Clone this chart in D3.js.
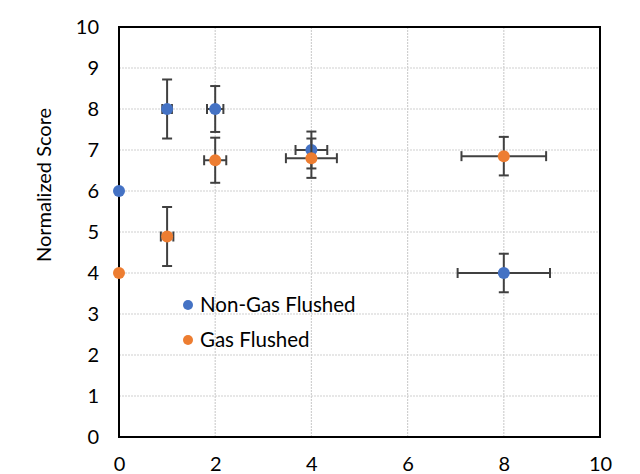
<!DOCTYPE html>
<html><head><meta charset="utf-8">
<script src="https://cdn.jsdelivr.net/npm/d3@7"></script>
<style>body{margin:0;background:#fff;} svg{display:block;font-family:Lato,"Open Sans",sans-serif;}</style>
</head><body>
<svg id="c" width="640" height="474"></svg>
<script>
const seriesNames = ["Non-Gas Flushed", "Gas Flushed"];
const seriesColors = ["#4472C4", "#ED7D31"];
const nonGasX = [0, 1, 2, 4, 8];
const nonGasY = [6, 8, 8, 7, 4];
const nonGasXErr = [0, 0.1, 0.17, 0.33, 0.96];
const nonGasYErr = [0, 0.72, 0.56, 0.45, 0.47];
const gasX = [0, 1, 2, 4, 8];
const gasY = [4, 4.89, 6.75, 6.8, 6.85];
const gasXErr = [0, 0.13, 0.23, 0.53, 0.88];
const gasYErr = [0, 0.72, 0.55, 0.48, 0.47];
const xTicks = [0, 2, 4, 6, 8, 10];
const yTicks = [0, 1, 2, 3, 4, 5, 6, 7, 8, 9, 10];

const svg = d3.select("#c");
const L = 119, R = 600, T = 27, B = 437;
const x = d3.scaleLinear().domain([0, 10]).range([L, R]);
const y = d3.scaleLinear().domain([0, 10]).range([B, T]);
const FONT = "Lato,'Open Sans',sans-serif";

// gridlines
svg.append("g").selectAll("line").data(yTicks.filter(d => d > 0 && d < 10)).join("line")
  .attr("x1", L).attr("x2", R).attr("y1", d => y(d)).attr("y2", d => y(d))
  .attr("stroke", "#d0d0d0").attr("stroke-width", 1.2).attr("stroke-dasharray", "2,1");
svg.append("g").selectAll("line").data(xTicks.filter(d => d > 0 && d < 10)).join("line")
  .attr("y1", T).attr("y2", B).attr("x1", d => x(d)).attr("x2", d => x(d))
  .attr("stroke", "#d0d0d0").attr("stroke-width", 1.2).attr("stroke-dasharray", "2,1");

// axes (labels only)
const fs = 20;
const xAxis = d3.axisBottom(x).tickValues(xTicks).tickSize(0).tickPadding(20).tickFormat(d3.format("d"));
const gx = svg.append("g").attr("transform", `translate(0,${B})`).call(xAxis);
gx.select(".domain").remove();
gx.selectAll("text").attr("font-size", fs).attr("fill", "#000").attr("font-family", FONT);
const yAxis = d3.axisLeft(y).tickValues(yTicks).tickSize(0).tickPadding(20).tickFormat(d3.format("d"));
const gy = svg.append("g").attr("transform", `translate(${L},0)`).call(yAxis);
gy.select(".domain").remove();
gy.selectAll("text").attr("font-size", fs).attr("fill", "#000").attr("font-family", FONT);

// frame
svg.append("rect").attr("x", L).attr("y", T).attr("width", R - L).attr("height", B - T)
  .attr("fill", "none").attr("stroke", "#000").attr("stroke-width", 2);

// y title
svg.append("text").attr("transform", `translate(51,185) rotate(-90)`)
  .attr("text-anchor", "middle").attr("font-size", 20).attr("fill", "#000")
  .text("Normalized Score");

const series = [
  {xs: nonGasX, ys: nonGasY, xe: nonGasXErr, ye: nonGasYErr, color: seriesColors[0]},
  {xs: gasX, ys: gasY, xe: gasXErr, ye: gasYErr, color: seriesColors[1]}
];
const errColor = "#404040", cap = 5;
series.forEach(s => {
  const pts = s.xs.map((v, i) => ({x: v, y: s.ys[i], xe: s.xe[i], ye: s.ye[i]}));
  const g = svg.append("g");
  pts.forEach(p => {
    if (p.ye > 0) {
      g.append("line").attr("x1", x(p.x)).attr("x2", x(p.x)).attr("y1", y(p.y - p.ye)).attr("y2", y(p.y + p.ye))
        .attr("stroke", errColor).attr("stroke-width", 2);
      [p.y - p.ye, p.y + p.ye].forEach(v => g.append("line").attr("x1", x(p.x) - cap).attr("x2", x(p.x) + cap)
        .attr("y1", y(v)).attr("y2", y(v)).attr("stroke", errColor).attr("stroke-width", 2));
    }
    if (p.xe > 0) {
      g.append("line").attr("y1", y(p.y)).attr("y2", y(p.y)).attr("x1", x(p.x - p.xe)).attr("x2", x(p.x + p.xe))
        .attr("stroke", errColor).attr("stroke-width", 2);
      [p.x - p.xe, p.x + p.xe].forEach(v => g.append("line").attr("y1", y(p.y) - cap).attr("y2", y(p.y) + cap)
        .attr("x1", x(v)).attr("x2", x(v)).attr("stroke", errColor).attr("stroke-width", 2));
    }
  });
  g.selectAll("circle").data(pts).join("circle")
    .attr("cx", d => x(d.x)).attr("cy", d => y(d.y)).attr("r", 6).attr("fill", s.color);
});

// legend
const lg = svg.append("g");
seriesNames.forEach((n, i) => {
  const yy = 305 + i * 35;
  lg.append("circle").attr("cx", 188).attr("cy", yy).attr("r", 5).attr("fill", seriesColors[i]);
  lg.append("text").attr("x", 200).attr("y", yy).attr("dy", "0.35em").attr("font-size", 20.5).attr("fill", "#000").text(n);
});
</script>
</body></html>
